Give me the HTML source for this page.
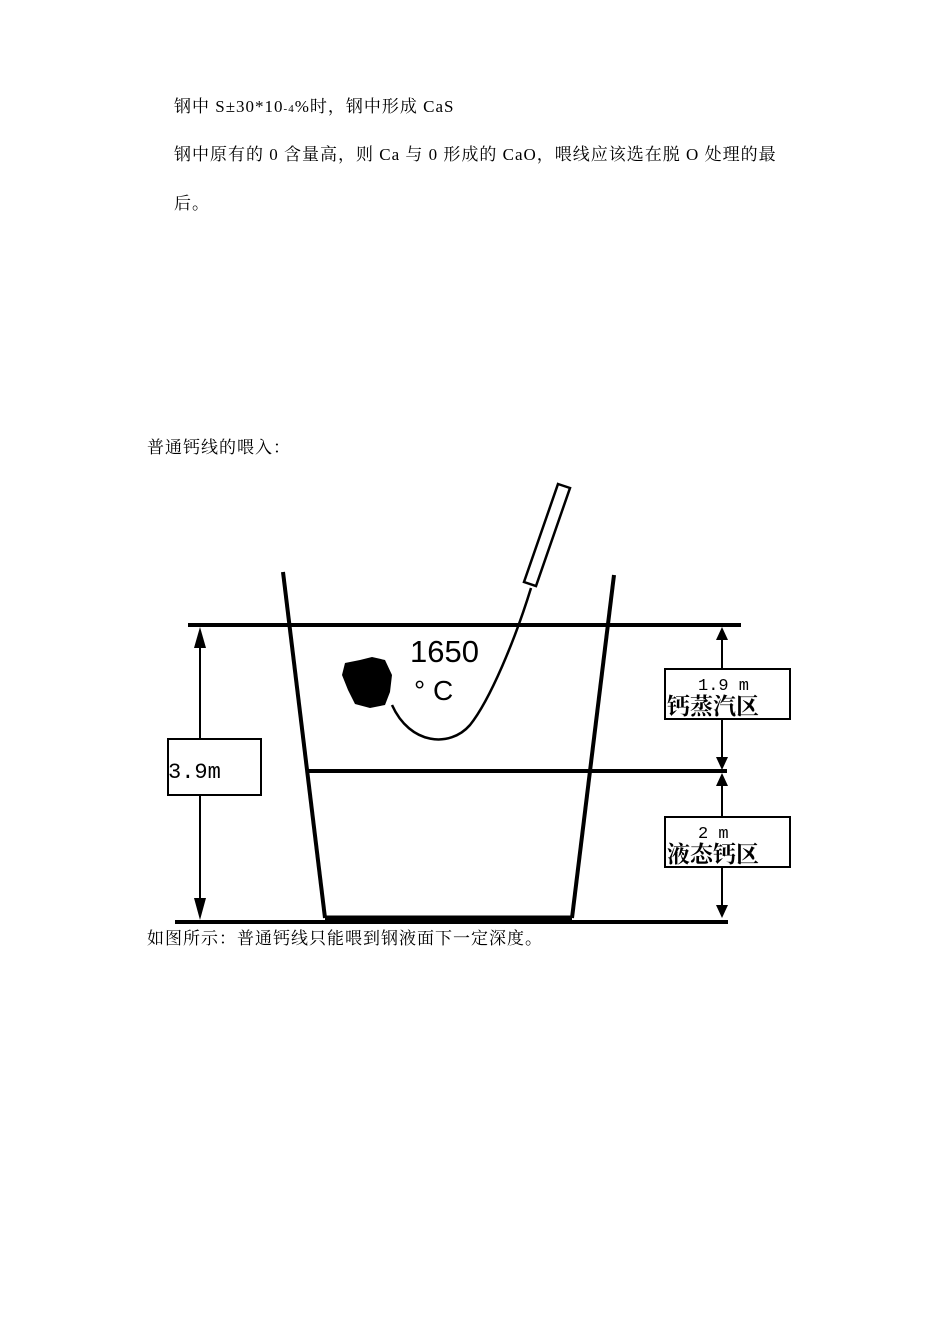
<!DOCTYPE html>
<html><head><meta charset="utf-8"><style>
body{margin:0;background:#fff;}
.p{position:absolute;font-family:"Liberation Serif","Noto Serif CJK SC",serif;font-size:17px;letter-spacing:1px;color:#000;white-space:nowrap;line-height:1;}
</style></head><body>
<div style="position:relative;width:950px;height:1318px;overflow:hidden">
<div class="p" style="left:174px;top:98px">钢中 S±30*10<span style="font-size:11px">-4</span>%时，钢中形成 CaS</div>
<div class="p" style="left:174px;top:146px">钢中原有的 0 含量高，则 Ca 与 0 形成的 CaO，喂线应该选在脱 O 处理的最</div>
<div class="p" style="left:174px;top:195px">后。</div>
<div class="p" style="left:147px;top:439px">普通钙线的喂入：</div>
<svg style="position:absolute;left:0;top:0" width="950" height="1318">
<g stroke="#000" fill="none">
<line x1="188" y1="625" x2="741" y2="625" stroke-width="4"/>
<line x1="307" y1="771" x2="727" y2="771" stroke-width="4"/>
<line x1="175" y1="922" x2="728" y2="922" stroke-width="4"/>
<line x1="325" y1="918" x2="572" y2="918" stroke-width="5"/>
<line x1="283" y1="572" x2="325" y2="918" stroke-width="4"/>
<line x1="614" y1="575" x2="572" y2="918" stroke-width="4"/>
<polygon points="558,484 570,488 536,586 524,582" stroke-width="2.5" fill="#fff"/>
<path d="M531,588 C515,640 490,700 470,725 C450,748 410,745 392,705" stroke-width="2.5"/>
<line x1="200" y1="640" x2="200" y2="906" stroke-width="2"/>
<line x1="722" y1="640" x2="722" y2="758" stroke-width="2"/>
<line x1="722" y1="784" x2="722" y2="906" stroke-width="2"/>
</g>
<g fill="#000">
<polygon points="200,627 194,648 206,648"/>
<polygon points="200,920 194,898 206,898"/>
<polygon points="722,627 716,640 728,640"/>
<polygon points="722,770 716,757 728,757"/>
<polygon points="722,773 716,786 728,786"/>
<polygon points="722,918 716,905 728,905"/>
<path d="M345,663 L360,660 L372,657 L385,660 L392,675 L390,692 L385,705 L370,708 L355,704 L348,690 L342,675 Z"/>
</g>
<rect x="168" y="739" width="93" height="56" fill="#fff" stroke="#000" stroke-width="2"/>
<rect x="665" y="669" width="125" height="50" fill="#fff" stroke="#000" stroke-width="2"/>
<rect x="665" y="817" width="125" height="50" fill="#fff" stroke="#000" stroke-width="2"/>
<g font-family="Liberation Mono,'Noto Sans CJK SC',monospace" fill="#000">
<text x="410" y="662" font-size="31" font-family="Liberation Sans,sans-serif">1650</text>
<text x="414" y="700" font-size="28" font-family="Liberation Sans,sans-serif">°  C</text>
<text x="168" y="778" font-size="22">3.9m</text>
<text x="698" y="690" font-size="17">1.9 m</text>
<text x="667" y="714" font-size="23" font-weight="bold" font-family="'Noto Serif CJK SC',serif">钙蒸汽区</text>
<text x="698" y="838" font-size="17">2 m</text>
<text x="667" y="862" font-size="23" font-weight="bold" font-family="'Noto Serif CJK SC',serif">液态钙区</text>
</g>
</svg>
<div class="p" style="left:147px;top:930px">如图所示：普通钙线只能喂到钢液面下一定深度。</div>
</div>
</body></html>
